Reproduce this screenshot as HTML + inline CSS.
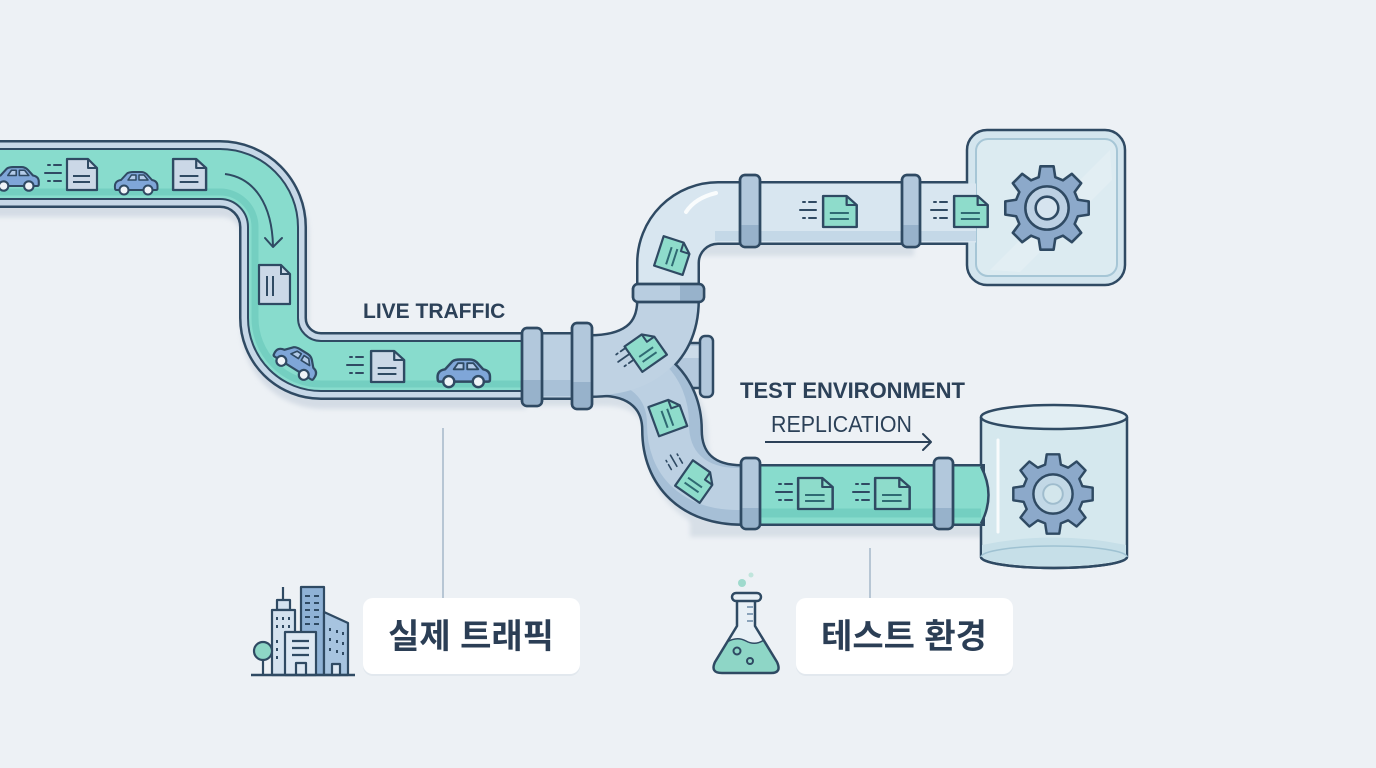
<!DOCTYPE html>
<html><head><meta charset="utf-8">
<style>
html,body{margin:0;padding:0;background:#edf1f5;}
svg{display:block;}
</style></head><body>
<svg width="1376" height="768" viewBox="0 0 1376 768" xmlns="http://www.w3.org/2000/svg">
<defs>
 <filter id="blur" x="-10%" y="-10%" width="120%" height="130%"><feGaussianBlur stdDeviation="2.5"/></filter>
 <g id="docL">
   <path d="M1 1 H22 L31 10 V32 H1 Z" fill="#cbd8e7" stroke="#2f4a63" stroke-width="2.2" stroke-linejoin="round"/>
   <path d="M22 1 V10 H31" fill="none" stroke="#2f4a63" stroke-width="2" stroke-linejoin="round"/>
   <path d="M7 18 H24 M7 24 H24" stroke="#2f4a63" stroke-width="2"/>
 </g>
 <g id="docT">
   <path d="M1 1 H22 L31 10 V32 H1 Z" fill="#8edccb" stroke="#2f4a63" stroke-width="2.2" stroke-linejoin="round"/>
   <path d="M22 1 V10 H31" fill="none" stroke="#2f4a63" stroke-width="2" stroke-linejoin="round"/>
   <path d="M7 18 H24 M7 24 H24" stroke="#2f6a73" stroke-width="2"/>
 </g>
 <g id="docV">
   <path d="M1 1 H22 L31 10 V32 H1 Z" fill="#8edccb" stroke="#2f4a63" stroke-width="2.2" stroke-linejoin="round"/>
   <path d="M22 1 V10 H31" fill="none" stroke="#2f4a63" stroke-width="2" stroke-linejoin="round"/>
   <path d="M12 9 V27 M18 9 V27" stroke="#2f6a73" stroke-width="2"/>
 </g>
 <g id="speed">
   <path d="M3 0 H5 M9 0 H16 M0 8 H16 M3 16 H5 M9 16 H16" stroke="#2f4a63" stroke-width="2" stroke-linecap="round" fill="none"/>
 </g>
 <g id="car">
   <path d="M3 18 Q2 11 9 10 L15 3.5 Q17 2 21 2 H29 Q32.5 2 35 4.5 L40 10 Q45.5 11 45.5 16 V18.5 Q45.5 20 44 20 H4.5 Q3 20 3 18 Z" fill="#7fa6d8" stroke="#2f4a63" stroke-width="2" stroke-linejoin="round"/>
   <path d="M16 10 L19.5 5 H24 V10 Z M27 10 V5 H32 L36 10 Z" fill="#b3cbe8" stroke="#2f4a63" stroke-width="1.5" stroke-linejoin="round"/>
   <circle cx="12" cy="20" r="4.5" fill="#eef3f8" stroke="#2f4a63" stroke-width="2"/>
   <circle cx="36" cy="20" r="4.5" fill="#eef3f8" stroke="#2f4a63" stroke-width="2"/>
 </g>
 <path id="gearP" d="M29.94 -8.02 L40.50 -6.41 L40.50 6.41 L29.94 8.02 L26.85 15.5 L33.17 24.10 L24.10 33.17 L15.5 26.85 L8.02 29.94 L6.41 40.50 L-6.41 40.50 L-8.02 29.94 L-15.5 26.85 L-24.10 33.17 L-33.17 24.10 L-26.85 15.5 L-29.94 8.02 L-40.50 6.41 L-40.50 -6.41 L-29.94 -8.02 L-26.85 -15.5 L-33.17 -24.10 L-24.10 -33.17 L-15.5 -26.85 L-8.02 -29.94 L-6.41 -40.50 L6.41 -40.50 L8.02 -29.94 L15.5 -26.85 L24.10 -33.17 L33.17 -24.10 L26.85 -15.5 Z"/>
</defs>

<rect width="1376" height="768" fill="#edf1f5"/>

<!-- shadows -->
<path d="M -10 174 H 220 A 53 53 0 0 1 273 227 V 318 A 48 48 0 0 0 321 366 H 524" fill="none" stroke="#d4dce5" stroke-width="68" transform="translate(2,9)" filter="url(#blur)"/>
<rect x="700" y="238" width="214" height="18" fill="#d7dfe7" filter="url(#blur)"/>
<rect x="690" y="515" width="296" height="22" fill="#d7dfe7" filter="url(#blur)"/>
<path d="M 530 366 H 600 C 645 366, 672 392, 672 430 C 672 470, 698 495, 742 495" fill="none" stroke="#d7dfe7" stroke-width="62" transform="translate(5,9)" filter="url(#blur)"/>

<!-- left pipe -->
<g fill="none">
 <path d="M -10 174 H 220 A 53 53 0 0 1 273 227 V 318 A 48 48 0 0 0 321 366 H 524" stroke="#2f4a63" stroke-width="68"/>
 <path d="M -10 174 H 220 A 53 53 0 0 1 273 227 V 318 A 48 48 0 0 0 321 366 H 524" stroke="#c6d7e7" stroke-width="63"/>
 <path d="M -10 174 H 220 A 53 53 0 0 1 273 227 V 318 A 48 48 0 0 0 321 366 H 524" stroke="#2f4a63" stroke-width="52"/>
 <path d="M -10 174 H 220 A 53 53 0 0 1 273 227 V 318 A 48 48 0 0 0 321 366 H 524" stroke="#88dccd" stroke-width="48"/>
 <path d="M -10 192 H 220 A 35 35 0 0 1 255 227 V 318 A 66 66 0 0 0 321 384 H 524" stroke="#74cfc1" stroke-width="7"/>
</g>

<!-- left pipe items -->
<use href="#car" transform="translate(-9,165) scale(1.05)"/>
<use href="#speed" transform="translate(45,165)"/>
<use href="#docL" transform="translate(66,158)"/>
<use href="#car" transform="translate(112,170)"/>
<use href="#docL" transform="translate(172,158) scale(1.1,1)"/>
<path d="M 225 174 C 255 178, 272 205, 273 246" fill="none" stroke="#2f4a63" stroke-width="2"/>
<path d="M 265 238 L 273 247 L 282 238" fill="none" stroke="#2f4a63" stroke-width="2" stroke-linejoin="round" stroke-linecap="round"/>
<path d="M259 265 H281 L290 274 V304 H259 Z" fill="#cbd8e7" stroke="#2f4a63" stroke-width="2.2" stroke-linejoin="round"/>
<path d="M281 265 V274 H290" fill="none" stroke="#2f4a63" stroke-width="2"/>
<path d="M267 276 V296 M273 276 V296" stroke="#2f4a63" stroke-width="2"/>
<use href="#car" transform="translate(297,360) rotate(32) translate(-26,-13) scale(1.1)"/>
<use href="#speed" transform="translate(347,357)"/>
<use href="#docL" transform="translate(370,350) scale(1.1,1)"/>
<use href="#car" transform="translate(434,357) scale(1.23)"/>

<!-- top right box -->
<rect x="967" y="130" width="158" height="155" rx="20" fill="#d3e5ee" stroke="#2f4a63" stroke-width="2.5"/>
<rect x="976" y="139" width="141" height="137" rx="12" fill="#dcebf1" stroke="#a6c6d6" stroke-width="2"/>
<path d="M990 270 L1110 150 L1112 180 L1020 272 Z" fill="#ffffff" opacity="0.18"/>

<!-- cylinder -->
<path d="M 981 417 V 557 A 73 11 0 0 0 1127 557 V 417" fill="#d5e8ee" stroke="#2f4a63" stroke-width="2.5"/>
<path d="M 982 545 Q 1054 530 1126 545 V 557 A 73 11 0 0 1 982 557 Z" fill="#c6dfe8"/>
<path d="M 981 557 A 73 11 0 0 1 1127 557" fill="none" stroke="#9fc2d2" stroke-width="1.5"/>
<path d="M 981 557 A 73 11 0 0 0 1127 557" fill="none" stroke="#2f4a63" stroke-width="2.5"/>
<ellipse cx="1054" cy="417" rx="73" ry="12" fill="#e2eef3" stroke="#2f4a63" stroke-width="2.5"/>
<line x1="998" y1="440" x2="998" y2="532" stroke="#ffffff" stroke-width="3" opacity="0.85" stroke-linecap="round"/>

<!-- stub -->
<rect x="668" y="343" width="38" height="45" fill="#b4c9dd" stroke="#2f4a63" stroke-width="2.5"/>
<rect x="670" y="346" width="34" height="12" fill="#cbdbe9"/>

<!-- junction darks -->
<g fill="none">
 <path d="M 530 366 H 600 C 645 366, 672 392, 672 430 C 672 470, 698 495, 742 495 H 985" stroke="#2f4a63" stroke-width="62"/>
 <path d="M 590 366 C 632 366, 668 348, 668 300 V 263 A 50 50 0 0 1 718 213 H 968" stroke="#2f4a63" stroke-width="64"/>
 <path d="M 530 366 H 592" stroke="#2f4a63" stroke-width="68"/>
 <!-- fills -->
 <path d="M 530 366 H 600 C 645 366, 672 392, 672 430 C 672 470, 698 495, 742 495 H 765" stroke="#a6bfd6" stroke-width="57"/>
 <path d="M 530 366 H 600 C 645 366, 672 392, 672 430 C 672 470, 698 495, 742 495 H 765" stroke="#bcd0e2" stroke-width="42" transform="translate(-4,-6)"/>
 <path d="M 530 366 H 592" stroke="#bcd0e2" stroke-width="63"/>
 <path d="M 530 388 H 592" stroke="#a9c1d7" stroke-width="16"/>
 <path d="M 590 366 C 632 366, 668 348, 668 300 V 290" stroke="#bfd2e3" stroke-width="59"/>
 <path d="M 668 292 V 263 A 50 50 0 0 1 718 213 H 976" stroke="#d8e6f0" stroke-width="59"/>
 <path d="M 715 236 H 976" stroke="#c4d8e7" stroke-width="10"/>
 <path d="M 686 212 Q 695 198 716 193" stroke="#ffffff" stroke-width="4" opacity="0.85" stroke-linecap="round"/>
 <!-- bottom teal -->
 <path d="M 760 495 H 982" stroke="#88dccd" stroke-width="57"/>
 <path d="M 760 513 H 982" stroke="#74cfc1" stroke-width="9"/>
</g>
<path d="M 981 466.5 Q 996 495 981 523.5" fill="#88dccd" stroke="#2f4a63" stroke-width="2.5"/>

<!-- flanges -->
<g stroke="#2f4a63" stroke-width="2.5">
 <rect x="522" y="328" width="20" height="78" rx="5" fill="#b2c8dc"/>
 <rect x="572" y="323" width="20" height="86" rx="5" fill="#b2c8dc"/>
 <rect x="633" y="284" width="71" height="18" rx="5" fill="#b8cde0"/>
 <rect x="740" y="175" width="20" height="72" rx="5" fill="#b2c8dc"/>
 <rect x="902" y="175" width="18" height="72" rx="5" fill="#b2c8dc"/>
 <rect x="741" y="458" width="19" height="71" rx="5" fill="#b2c8dc"/>
 <rect x="934" y="458" width="19" height="71" rx="5" fill="#b2c8dc"/>
 <rect x="700" y="336" width="13" height="61" rx="5" fill="#b2c8dc"/>
</g>
<g fill="#97b2cb">
 <rect x="523.5" y="380" width="17" height="24"/>
 <rect x="573.5" y="382" width="17" height="25"/>
 <rect x="741.5" y="225" width="17" height="20"/>
 <rect x="903.5" y="225" width="15" height="20"/>
 <rect x="742.5" y="508" width="16" height="19"/>
 <rect x="935.5" y="508" width="16" height="19"/>
 <rect x="680" y="285.5" width="22" height="15"/>
</g>
<g fill="none" stroke="#2f4a63" stroke-width="2.5">
 <rect x="522" y="328" width="20" height="78" rx="5"/>
 <rect x="572" y="323" width="20" height="86" rx="5"/>
 <rect x="633" y="284" width="71" height="18" rx="5"/>
 <rect x="740" y="175" width="20" height="72" rx="5"/>
 <rect x="902" y="175" width="18" height="72" rx="5"/>
 <rect x="741" y="458" width="19" height="71" rx="5"/>
 <rect x="934" y="458" width="19" height="71" rx="5"/>
</g>

<!-- docs in glass pipes -->
<use href="#speed" transform="translate(800,202)"/>
<use href="#docT" transform="translate(822,195) scale(1.12,1)"/>
<use href="#speed" transform="translate(931,202)"/>
<use href="#docT" transform="translate(953,195) scale(1.12,1)"/>
<use href="#speed" transform="translate(776,484)"/>
<use href="#docT" transform="translate(797,477) scale(1.15,1)"/>
<use href="#speed" transform="translate(853,484)"/>
<use href="#docT" transform="translate(874,477) scale(1.15,1)"/>
<use href="#docV" transform="translate(673,256) rotate(18) translate(-16,-17)"/>
<use href="#docT" transform="translate(646,351) rotate(-35) translate(-16,-17)"/>
<use href="#speed" transform="translate(614,356) rotate(-35) scale(0.9)"/>
<use href="#docV" transform="translate(668,417) rotate(-20) translate(-16,-17)"/>
<use href="#docT" transform="translate(696,482) rotate(35) translate(-16,-17)"/>
<use href="#speed" transform="translate(676,452) rotate(60) scale(0.8)"/>

<!-- gears -->
<g transform="translate(1047,208) scale(1.03)">
 <use href="#gearP" fill="#8ca9ca" stroke="#2f4a63" stroke-width="2.5" stroke-linejoin="round"/>
 <circle r="21" fill="#bcd0e3" stroke="#2f4a63" stroke-width="2.5"/>
 <circle r="11" fill="#d6e4ef" stroke="#2f4a63" stroke-width="2.5"/>
</g>
<g transform="translate(1053,494) scale(0.98)">
 <use href="#gearP" fill="#8ca9ca" stroke="#2f4a63" stroke-width="2.5" stroke-linejoin="round"/>
 <circle r="20" fill="#c2d8e6" stroke="#2f4a63" stroke-width="2.5"/>
 <circle r="10" fill="#d3e6ec" stroke="#9fbccd" stroke-width="2"/>
</g>

<!-- texts -->
<g font-family="'Liberation Sans', Arial, sans-serif" fill="#2c4158">
 <text x="363" y="318" font-size="21" font-weight="700">LIVE TRAFFIC</text>
 <text x="740" y="398" font-size="22" font-weight="700">TEST ENVIRONMENT</text>
 <text x="771" y="432" font-size="23" textLength="141" lengthAdjust="spacingAndGlyphs">REPLICATION</text>
</g>
<line x1="765" y1="442" x2="931" y2="442" stroke="#2c4158" stroke-width="2"/>
<path d="M 923 434 L 931 442 L 923 450" fill="none" stroke="#2c4158" stroke-width="2" stroke-linecap="round" stroke-linejoin="round"/>

<!-- connector lines -->
<line x1="443" y1="428" x2="443" y2="598" stroke="#b7c6d4" stroke-width="2"/>
<line x1="870" y1="548" x2="870" y2="598" stroke="#b7c6d4" stroke-width="2"/>

<!-- label boxes -->
<rect x="363" y="600" width="217" height="76" rx="10" fill="#e2e8ee"/>
<rect x="363" y="598" width="217" height="76" rx="10" fill="#ffffff"/>
<rect x="796" y="600" width="217" height="76" rx="10" fill="#e2e8ee"/>
<rect x="796" y="598" width="217" height="76" rx="10" fill="#ffffff"/>
<g font-family="'Liberation Sans', 'Noto Sans CJK KR', sans-serif" font-size="34" font-weight="700" fill="#2b3e55" text-anchor="middle">
 <text x="471" y="648">실제 트래픽</text>
 <text x="904" y="648">테스트 환경</text>
</g>

<!-- buildings icon -->
<g stroke="#2f4a63" stroke-width="2.2" stroke-linejoin="round">
 <line x1="283" y1="587" x2="283" y2="600"/>
 <rect x="277" y="600" width="13" height="10" fill="#d4e2ef"/>
 <rect x="272" y="610" width="23" height="65" fill="#d4e2ef"/>
 <rect x="301" y="587" width="23" height="88" fill="#8fb2d6"/>
 <path d="M324 612 L348 623 V675 H324 Z" fill="#a7c4e0"/>
 <rect x="285" y="632" width="31" height="43" fill="#dde8f3"/>
 <rect x="296" y="663" width="10" height="12" fill="#dde8f3"/>
 <rect x="332" y="664" width="8" height="11" fill="#dde8f3"/>
 <path d="M292 641 H309 M292 648 H309 M292 655 H309" fill="none"/>
 <line x1="263" y1="655" x2="263" y2="675"/>
 <circle cx="263" cy="651" r="9" fill="#8ed6c6"/>
 <line x1="251" y1="675" x2="355" y2="675" stroke-width="2.5"/>
</g>
<g fill="#2f4a63">
 <rect x="276" y="617" width="2" height="3"/><rect x="282" y="617" width="2" height="3"/><rect x="288" y="617" width="2" height="3"/>
 <rect x="276" y="625" width="2" height="3"/><rect x="282" y="625" width="2" height="3"/><rect x="288" y="625" width="2" height="3"/>
 <rect x="276" y="640" width="2" height="3"/><rect x="276" y="648" width="2" height="3"/><rect x="276" y="656" width="2" height="3"/>
 <rect x="305" y="595" width="5" height="2"/><rect x="314" y="595" width="5" height="2"/>
 <rect x="305" y="602" width="5" height="2"/><rect x="314" y="602" width="5" height="2"/>
 <rect x="305" y="609" width="5" height="2"/><rect x="314" y="609" width="5" height="2"/>
 <rect x="305" y="616" width="5" height="2"/><rect x="314" y="616" width="5" height="2"/>
 <rect x="305" y="623" width="5" height="2"/><rect x="314" y="623" width="5" height="2"/>
 <rect x="329" y="628" width="2" height="3"/><rect x="336" y="630" width="2" height="3"/><rect x="342" y="632" width="2" height="3"/>
 <rect x="329" y="638" width="2" height="3"/><rect x="336" y="640" width="2" height="3"/><rect x="342" y="642" width="2" height="3"/>
 <rect x="329" y="648" width="2" height="3"/><rect x="336" y="650" width="2" height="3"/><rect x="342" y="652" width="2" height="3"/>
</g>

<!-- flask icon -->
<circle cx="742" cy="583" r="4" fill="#9fdacd"/>
<circle cx="751" cy="575" r="2.5" fill="#c0e5dc"/>
<path d="M737 600 V626 L715 662 Q710 673 722 673 H771 Q782 673 777 662 L755 626 V600 Z" fill="#e8f0f6"/>
<path d="M727 642 Q737 636 746 641 Q755 646 764 640 L777 662 Q782 673 771 673 H722 Q710 673 715 662 Z" fill="#8ed6c6"/>
<path d="M737 600 V626 L715 662 Q710 673 722 673 H771 Q782 673 777 662 L755 626 V600" fill="none" stroke="#2f4a63" stroke-width="2.5" stroke-linejoin="round"/>
<path d="M727 642 Q737 636 746 641 Q755 646 764 640" fill="none" stroke="#2f4a63" stroke-width="1.5"/>
<rect x="732" y="593" width="29" height="8" rx="4" fill="#e8f0f6" stroke="#2f4a63" stroke-width="2.5"/>
<path d="M747 607 H753 M747 614 H753 M747 621 H753" stroke="#8aa3ba" stroke-width="2"/>
<circle cx="737" cy="651" r="3.5" fill="none" stroke="#2f4a63" stroke-width="2"/>
<circle cx="750" cy="661" r="3" fill="none" stroke="#2f4a63" stroke-width="2"/>
</svg>
</body></html>
